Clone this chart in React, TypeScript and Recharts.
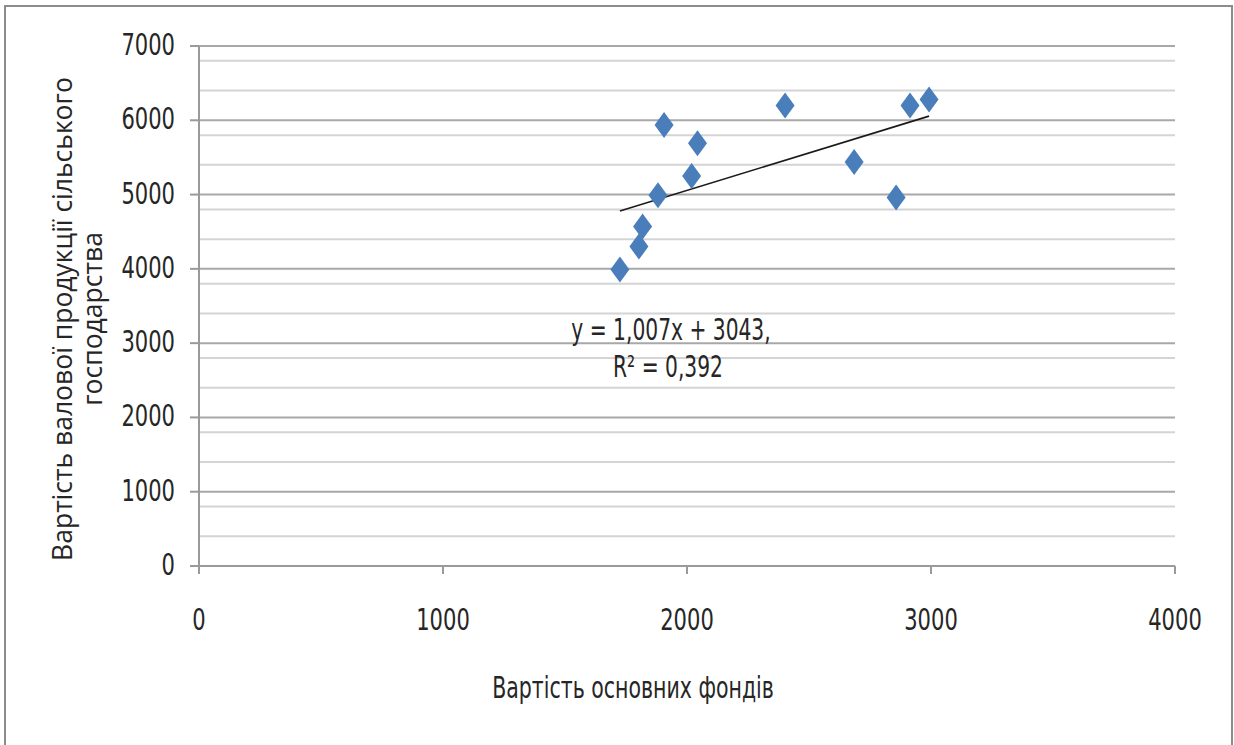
import React from 'react';
import {
  ScatterChart,
  Scatter,
  XAxis,
  YAxis,
  CartesianGrid,
  ReferenceLine,
  Label,
} from 'recharts';

const fundCost = [1725, 1803, 1818, 1881, 1906, 2019, 2043, 2402, 2685, 2857, 2914, 2992];
const outputCost = [3990, 4300, 4570, 4990, 5935, 5250, 5690, 6200, 5440, 4960, 6200, 6280];

const trendX = [1725, 2992];
const trendY = [4780, 6056];

const xTicks = [0, 1000, 2000, 3000, 4000];
const yTicks = [0, 1000, 2000, 3000, 4000, 5000, 6000, 7000];
const minorY = [
  200, 400, 600, 800, 1200, 1400, 1600, 1800, 2200, 2400, 2600, 2800,
  3200, 3400, 3600, 3800, 4200, 4400, 4600, 4800, 5200, 5400, 5600, 5800,
  6200, 6400, 6600, 6800,
];

const xTitle = 'Вартість основних фондів';
const yTitleLines = ['Вартість валової продукції сільського', 'господарства'];
const equationLines = ['y = 1,007x + 3043,', 'R² = 0,392'];

const points = fundCost.map((x, i) => ({ x, y: outputCost[i] }));

const FONT = "'DejaVu Sans Condensed', 'DejaVu Sans', sans-serif";
const WIDE = "'Open Sans', 'DejaVu Sans', sans-serif";
const TEXT = '#262626';
const AXIS = '#9a9a9a';
const SQUEEZE = 0.78;

// the source picture is stretched vertically, so text is squeezed sideways
function NarrowText({ x, y, anchor = 'middle', size = 30, k = SQUEEZE, children }: any) {
  return (
    <text
      transform={`translate(${x},${y}) scale(${k},1)`}
      fill={TEXT}
      fontSize={size}
      fontFamily={FONT}
      textAnchor={anchor}
    >
      {children}
    </text>
  );
}

function XTick(props: any) {
  const { x, y, payload } = props;
  return <NarrowText x={x} y={y + 56}>{payload.value}</NarrowText>;
}

function YTick(props: any) {
  const { x, y, payload } = props;
  return <NarrowText x={x} y={y + 9} anchor="end">{payload.value}</NarrowText>;
}

function Diamond(props: any) {
  const { cx, cy } = props;
  if (cx == null || cy == null) return <g />;
  return (
    <path
      d={`M${cx},${cy - 13} L${cx + 9.5},${cy} L${cx},${cy + 13} L${cx - 9.5},${cy} Z`}
      fill="#4A7EBB"
    />
  );
}

function XTitle(props: any) {
  const { viewBox } = props;
  return (
    <NarrowText x={viewBox.x + 434} y={698} k={0.76}>
      {xTitle}
    </NarrowText>
  );
}

function YTitle() {
  return (
    <text transform="rotate(-90)" fill={TEXT} fontSize={26.5} fontFamily={WIDE} textAnchor="middle">
      <tspan x={-319} y={72}>{yTitleLines[0]}</tspan>
      <tspan x={-319} y={102}>{yTitleLines[1]}</tspan>
    </text>
  );
}

export default function App() {
  return (
    <div
      style={{
        position: 'absolute',
        left: 0,
        top: 0,
        width: 1234,
        height: 745,
        overflow: 'hidden',
        background: '#fff',
      }}
    >
      <div
        style={{
          position: 'absolute',
          left: 4,
          top: 5,
          width: 1229,
          height: 760,
          boxSizing: 'border-box',
          border: '2px solid #8c8c8c',
        }}
      />
      <ScatterChart
        width={1234}
        height={745}
        margin={{ top: 46, right: 59, bottom: 0, left: 0 }}
        style={{ position: 'absolute', left: 0, top: 0 }}
      >
        <CartesianGrid
          vertical={false}
          horizontalValues={minorY}
          stroke="#d4d4d4"
          strokeWidth={2}
        />
        <CartesianGrid vertical={false} stroke="#a8a8a8" strokeWidth={2} />
        <XAxis
          type="number"
          dataKey="x"
          domain={[0, 4000]}
          ticks={xTicks}
          height={179}
          tickSize={8}
          tickMargin={0}
          axisLine={{ stroke: AXIS, strokeWidth: 2 }}
          tickLine={{ stroke: AXIS, strokeWidth: 2 }}
          tick={<XTick />}
        >
          <Label content={<XTitle />} />
        </XAxis>
        <YAxis
          type="number"
          dataKey="y"
          domain={[0, 7000]}
          ticks={yTicks}
          width={199}
          tickSize={9}
          tickMargin={15}
          axisLine={{ stroke: AXIS, strokeWidth: 2 }}
          tickLine={{ stroke: AXIS, strokeWidth: 2 }}
          tick={<YTick />}
        >
          <Label content={<YTitle />} />
        </YAxis>
        <ReferenceLine
          segment={[
            { x: trendX[0], y: trendY[0] },
            { x: trendX[1], y: trendY[1] },
          ]}
          stroke="#1a1a1a"
          strokeWidth={1.6}
        />
        <Scatter data={points} shape={<Diamond />} isAnimationActive={false} />
        <NarrowText x={671} y={340} k={0.75}>{equationLines[0]}</NarrowText>
        <NarrowText x={668} y={377} k={0.75}>{equationLines[1]}</NarrowText>
      </ScatterChart>
    </div>
  );
}
